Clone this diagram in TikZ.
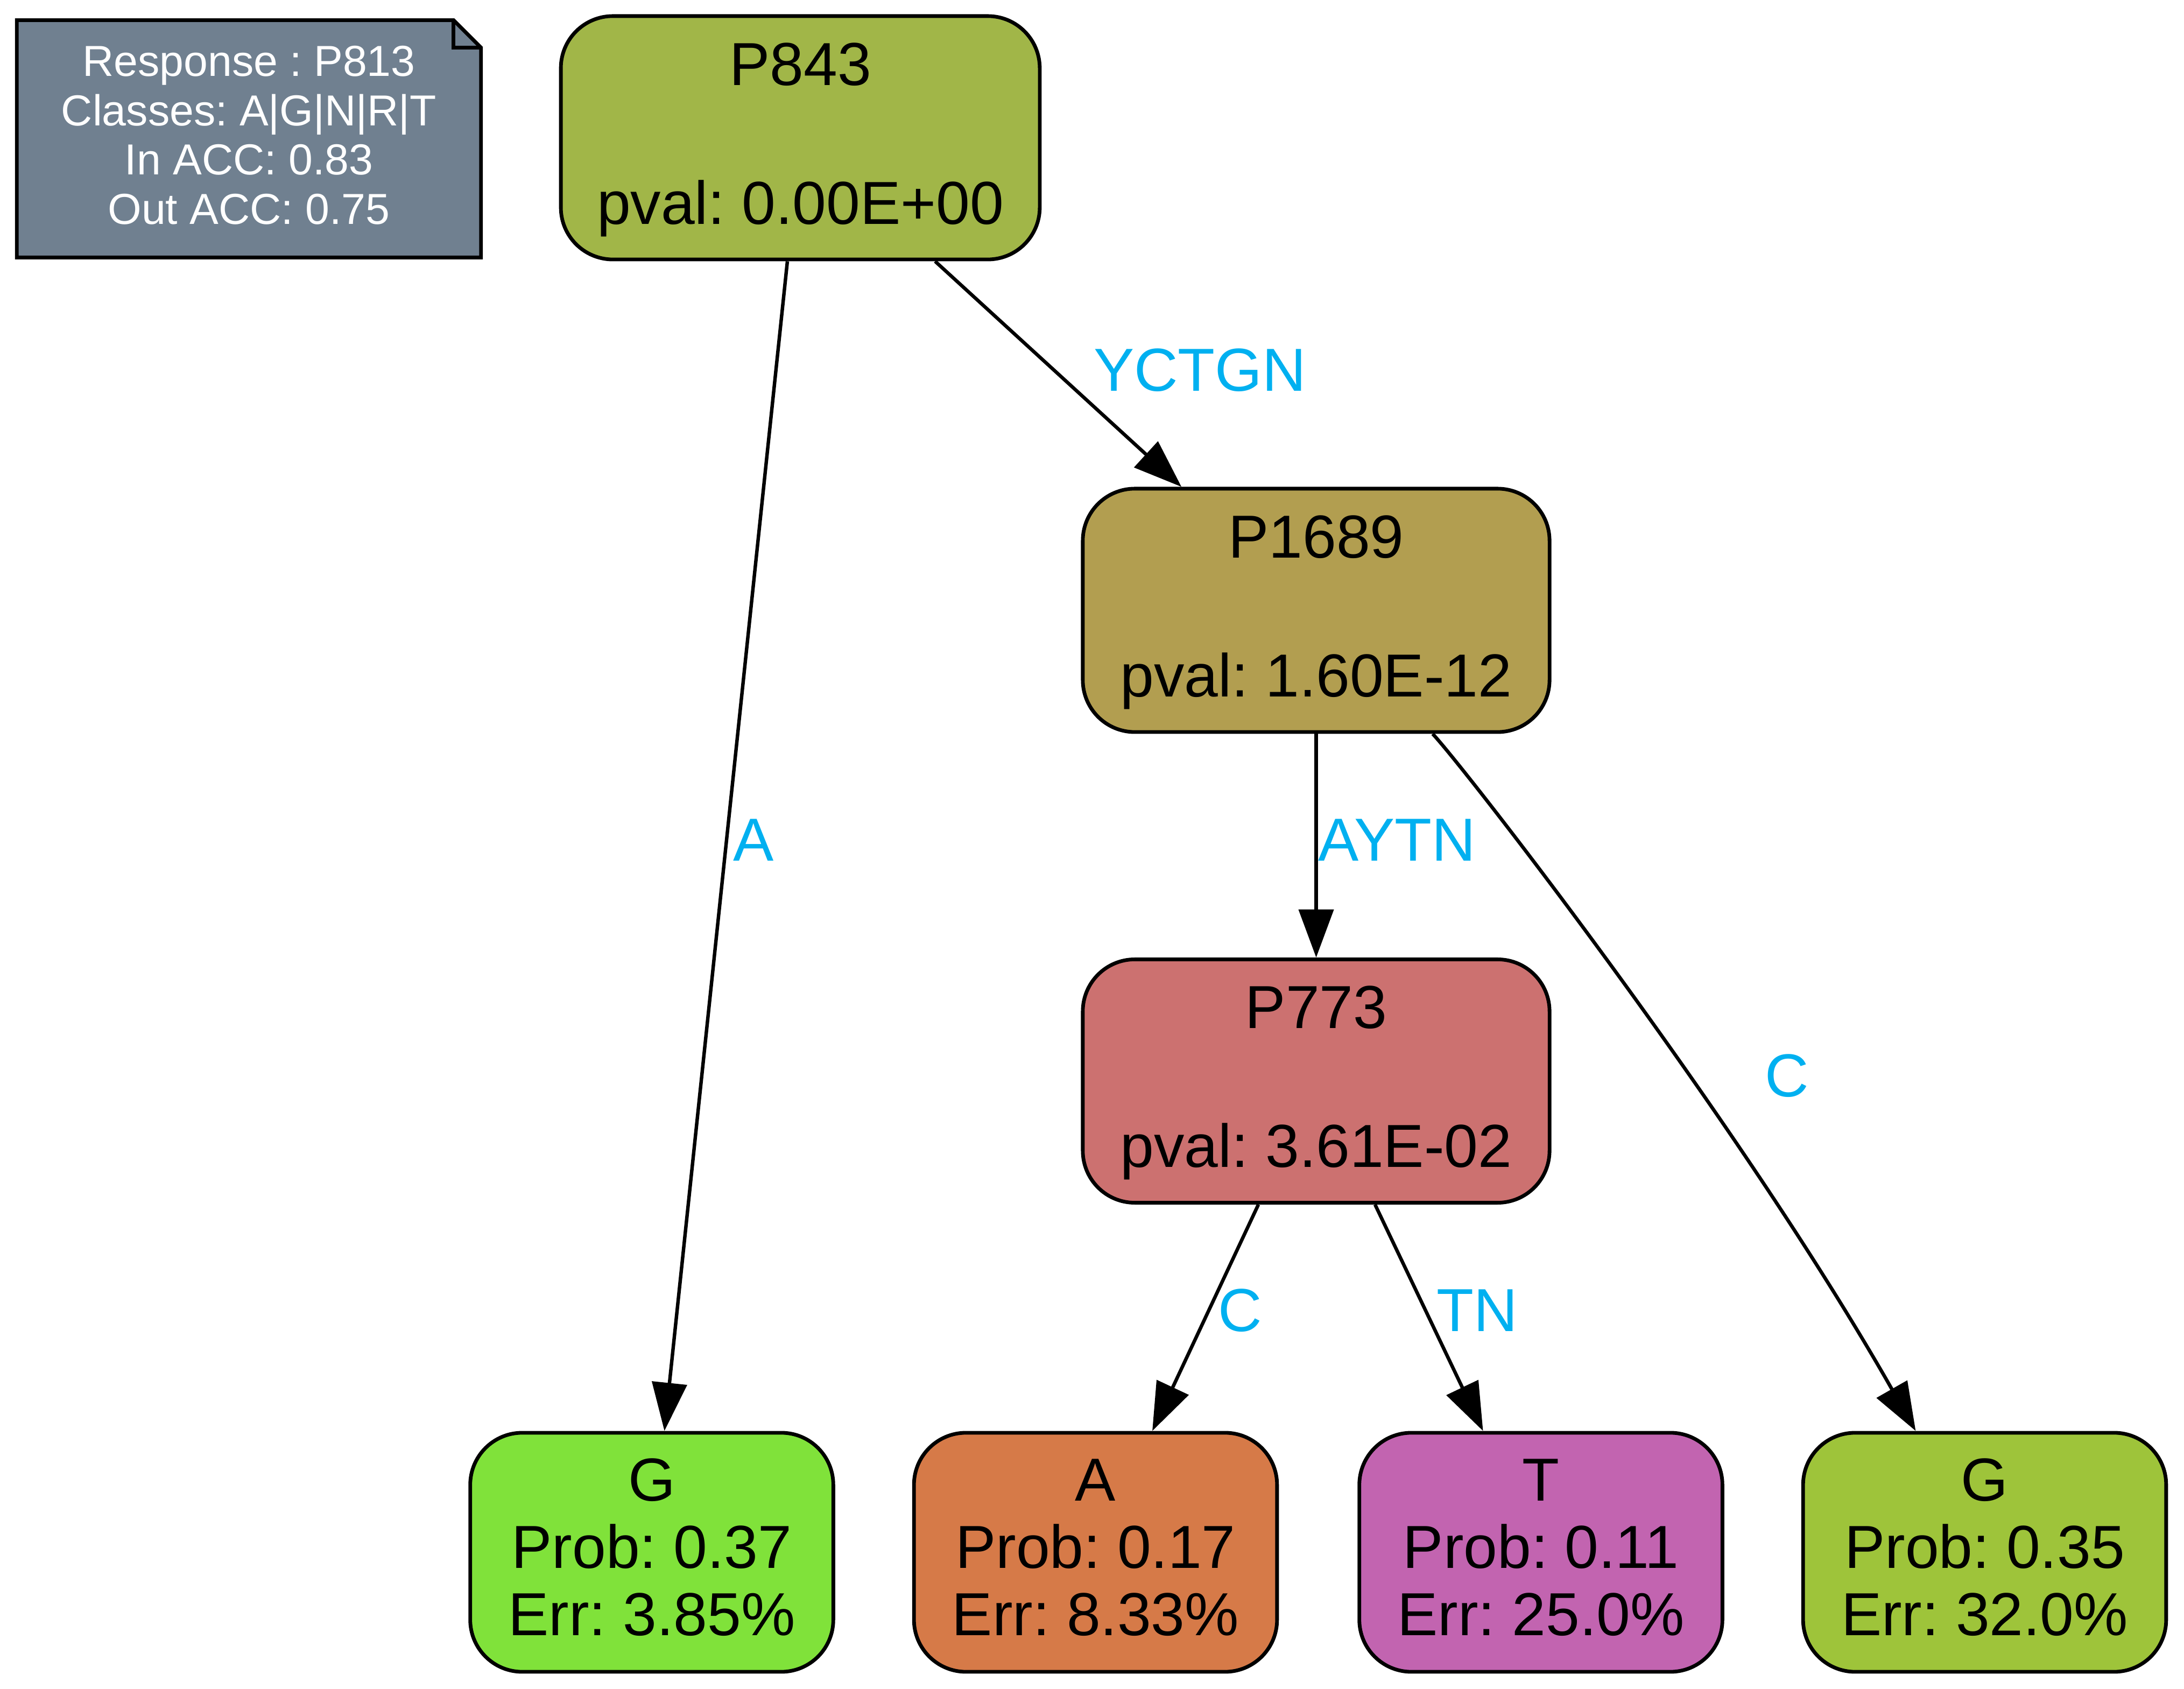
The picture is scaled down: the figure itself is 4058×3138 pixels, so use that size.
\documentclass[tikz,border=0pt]{standalone}
\usepackage{fontspec}
\setmainfont{Liberation Sans}
\usetikzlibrary{arrows.meta,backgrounds}
\definecolor{legfill}{RGB}{112,128,144}
\definecolor{cP843}{RGB}{161,182,72}
\definecolor{cP1689}{RGB}{178,158,80}
\definecolor{cP773}{RGB}{204,113,112}
\definecolor{cGa}{RGB}{128,226,58}
\definecolor{cA}{RGB}{214,122,72}
\definecolor{cT}{RGB}{194,100,176}
\definecolor{cGb}{RGB}{158,196,58}
\definecolor{lblue}{RGB}{0,176,240}
\frenchspacing
\begin{document}
\begin{tikzpicture}[x=0.12407pt,y=-0.12407pt,
  box/.style={draw=black, line width=0.85pt, rounded corners=12pt, inner sep=0pt, align=center},
  splitbox/.style={box, minimum width=107.6pt, minimum height=56.1pt, font=\fontsize{14}{16}\selectfont},
  leafbox/.style={box, minimum width=83.7pt, minimum height=55.1pt, font=\fontsize{14}{15.5}\selectfont},
  legendbox/.style={inner sep=0pt, align=center, text=white, minimum width=106.6pt, minimum height=54.3pt, font=\fontsize{10}{11.34}\selectfont},
  conn/.style={draw=black, line width=0.8pt, -{Triangle[length=11.1pt,width=8pt]}},
  elabel/.style={text=lblue, font=\fontsize{14}{16}\selectfont, inner sep=0pt, anchor=base},
]
\useasboundingbox (0,0) rectangle (4058,3138);

% legend note
\node[legendbox] (leg) at (462.5,258) {\rule{0pt}{8pt}Response : P813\\Classes: A|G|N|R|T\\In ACC: 0.83\\Out ACC: 0.75\rule[-2.8pt]{0pt}{2.8pt}};
\begin{scope}[on background layer]
\filldraw[fill=legfill, draw=black, line width=0.85pt, line join=miter]
  (leg.north west) -- ([xshift=-6.33pt]leg.north east) -- ([yshift=-6.33pt]leg.north east)
  -- (leg.south east) -- (leg.south west) -- cycle;
\draw[black, line width=0.85pt, line join=miter]
  ([xshift=-6.33pt]leg.north east) -- ([xshift=-6.33pt,yshift=-6.33pt]leg.north east) -- ([yshift=-6.33pt]leg.north east);
\end{scope}

% split nodes
\node[splitbox, fill=cP843, minimum width=110.4pt] (p843) at (1487,256) {\rule{0pt}{11.5pt}P843\\\mbox{}\\pval: 0.00E+00\rule[-3.7pt]{0pt}{3.7pt}};
\node[splitbox, fill=cP1689] (p1689) at (2445.5,1134) {\rule{0pt}{11.5pt}P1689\\\mbox{}\\pval: 1.60E-12\rule[-3.7pt]{0pt}{3.7pt}};
\node[splitbox, fill=cP773] (p773) at (2445.5,2008.5) {\rule{0pt}{11.5pt}P773\\\mbox{}\\pval: 3.61E-02\rule[-3.7pt]{0pt}{3.7pt}};

% leaves
\node[leafbox, fill=cGa] (g1) at (1211,2884) {\rule{0pt}{11pt}G\\Prob: 0.37\\Err: 3.85\%\rule[-3.6pt]{0pt}{3.6pt}};
\node[leafbox, fill=cA] (a1) at (2035.5,2884) {\rule{0pt}{11pt}A\\Prob: 0.17\\Err: 8.33\%\rule[-3.6pt]{0pt}{3.6pt}};
\node[leafbox, fill=cT] (t1) at (2863,2884) {\rule{0pt}{11pt}T\\Prob: 0.11\\Err: 25.0\%\rule[-3.6pt]{0pt}{3.6pt}};
\node[leafbox, fill=cGb] (g2) at (3687.5,2884) {\rule{0pt}{11pt}G\\Prob: 0.35\\Err: 32.0\%\rule[-3.6pt]{0pt}{3.6pt}};

% connectors
\draw[conn] (p843) -- (g1);
\draw[conn] (p843) -- (p1689);
\draw[conn] (p1689) -- (p773);
\draw[conn] (p773) -- (a1);
\draw[conn] (p773) -- (t1);
\draw[conn] (p1689) .. controls (2720,1425) and (3230,2080) .. (g2);

% connector labels
\node[elabel] (lA) at (1400.5,1600) {A};
\node[elabel] (lYCTGN) at (2229.5,727) {YCTGN};
\node[elabel] (lAYTN) at (2596,1600) {AYTN};
\node[elabel] (lCr) at (3320.5,2038) {C};
\node[elabel] (lC) at (2304.5,2474) {C};
\node[elabel] (lTN) at (2744.5,2474) {TN};
\end{tikzpicture}
\end{document}
